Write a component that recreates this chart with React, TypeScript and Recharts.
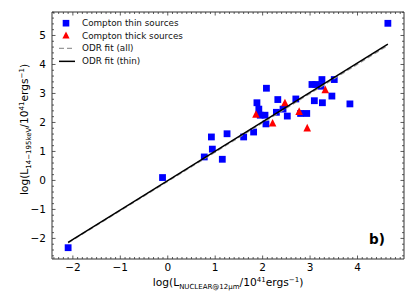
import { ScatterChart, Scatter, XAxis, YAxis, Legend } from "recharts";

const thinX = [4.64, -2.1, -0.11, 0.77, 0.92, 0.94, 1.15, 1.25, 1.6, 1.81, 1.88, 1.92, 1.95, 2.05, 2.08, 2.07, 2.29, 2.32, 2.43, 2.52, 2.7, 2.8, 2.93, 3.04, 3.12, 3.09, 3.25, 3.23, 3.26, 3.46, 3.51, 3.84];
const thinY = [5.42, -2.32, 0.1, 0.81, 1.5, 1.08, 0.73, 1.61, 1.5, 1.67, 2.68, 2.46, 2.25, 2.25, 3.18, 1.95, 2.35, 2.79, 2.46, 2.22, 2.81, 2.31, 2.31, 3.31, 3.31, 2.75, 3.48, 3.25, 2.68, 2.91, 3.48, 2.64];

const thickX = [1.86, 2.21, 2.47, 2.77, 2.94, 3.32];
const thickY = [2.29, 1.99, 2.69, 2.39, 1.82, 3.14];

const fitX = [-2.1, 4.64];
const fitAllY = [-2.15, 4.66];
const fitThinY = [-2.14, 4.7];

const xMajor = [-2, -1, 0, 1, 2, 3, 4];
const yMajor = [-2, -1, 0, 1, 2, 3, 4, 5];

const legendLabels = [
  "Compton thin sources",
  "Compton thick sources",
  "ODR fit (all)",
  "ODR fit (thin)",
];

const xDomain = [-2.44, 4.98];
const yDomain = [-2.71, 5.81];

const FONT = "DejaVu Sans";

const zip = (xs: number[], ys: number[]) => xs.map((x, i) => ({ x, y: ys[i] }));

const thin = zip(thinX, thinY);
const thick = zip(thickX, thickY);
const fitAll = zip(fitX, fitAllY);
const fitThin = zip(fitX, fitThinY);

// minor + major tick positions for the inward ticks
const allTicks = (lo: number, hi: number, step: number) => {
  const out: number[] = [];
  for (let k = Math.ceil(lo / step); k <= Math.floor(hi / step); k++) {
    out.push(Math.round(k * step * 1000) / 1000);
  }
  return out;
};
const xTicks = allTicks(xDomain[0], xDomain[1], 0.1);
const yTicks = allTicks(yDomain[0], yDomain[1], 0.2);

const isMajor = (v: number, major: number[]) => major.some((m) => Math.abs(v - m) < 1e-6);
const fmt = (v: number) => (v < 0 ? "\u2212" + Math.abs(v) : String(v));
const TICK_COLOR = "#333";

const BottomTick = ({ x, y, payload }: any) => {
  const major = isMajor(payload.value, xMajor);
  return (
    <g>
      <line x1={x} x2={x} y1={y} y2={y - (major ? 3.5 : 2)} stroke={TICK_COLOR} strokeWidth={0.8} />
      {major && (
        <text x={x} y={y + 11.5} textAnchor="middle" fontFamily={FONT} fontSize={10.5} fill="#000">
          {fmt(payload.value)}
        </text>
      )}
    </g>
  );
};

const TopTick = ({ x, y, payload }: any) => (
  <line
    x1={x}
    x2={x}
    y1={y}
    y2={y + (isMajor(payload.value, xMajor) ? 3.5 : 2)}
    stroke={TICK_COLOR}
    strokeWidth={0.8}
  />
);

const LeftTick = ({ x, y, payload }: any) => {
  const major = isMajor(payload.value, yMajor);
  return (
    <g>
      <line x1={x} x2={x + (major ? 3.5 : 2)} y1={y} y2={y} stroke={TICK_COLOR} strokeWidth={0.8} />
      {major && (
        <text x={x - 6} y={y + 3.8} textAnchor="end" fontFamily={FONT} fontSize={10.5} fill="#000">
          {fmt(payload.value)}
        </text>
      )}
    </g>
  );
};

const RightTick = ({ x, y, payload }: any) => (
  <line
    x1={x}
    x2={x - (isMajor(payload.value, yMajor) ? 3.5 : 2)}
    y1={y}
    y2={y}
    stroke={TICK_COLOR}
    strokeWidth={0.8}
  />
);

const XTitle = ({ viewBox }: any) => (
  <text
    x={viewBox.x + viewBox.width / 2}
    y={viewBox.y + 27}
    textAnchor="middle"
    fontFamily={FONT}
    fontSize={10.7}
    fill="#000"
  >
    log(L
    <tspan fontSize={7} dy={2.5}>NUCLEAR@12μm</tspan>
    <tspan dy={-2.5}>/10</tspan>
    <tspan fontSize={7} dy={-4.5}>41</tspan>
    <tspan dy={4.5}>ergs</tspan>
    <tspan fontSize={7} dy={-4.5}>{"\u22121"}</tspan>
    <tspan dy={4.5}>)</tspan>
  </text>
);

const YTitle = ({ viewBox }: any) => {
  const cx = viewBox.x + 28;
  const cy = viewBox.y + viewBox.height / 2 - 6;
  return (
    <text
      x={cx}
      y={cy}
      transform={`rotate(-90, ${cx}, ${cy})`}
      textAnchor="middle"
      fontFamily={FONT}
      fontSize={10.7}
      fill="#000"
    >
      log(L
      <tspan fontSize={7} dy={2.5}>{"14\u2212195keV"}</tspan>
      <tspan dy={-2.5}>/10</tspan>
      <tspan fontSize={7} dy={-4.5}>41</tspan>
      <tspan dy={4.5}>ergs</tspan>
      <tspan fontSize={7} dy={-4.5}>{"\u22121"}</tspan>
      <tspan dy={4.5}>)</tspan>
    </text>
  );
};

const Square = ({ cx, cy }: any) => (
  <rect x={cx - 3.4} y={cy - 3.4} width={6.8} height={6.8} fill="#0000ff" />
);

const Triangle = ({ cx, cy }: any) => (
  <polygon
    points={`${cx},${cy - 3.8} ${cx - 3.8},${cy + 3.8} ${cx + 3.8},${cy + 3.8}`}
    fill="#ff0000"
  />
);

const NoDot = () => <g />;

const legendIcons = [
  <rect x={6.7} y={2.9} width={6.6} height={6.6} fill="#0000ff" />,
  <polygon points="10,2.4 6.4,9.6 13.6,9.6" fill="#ff0000" />,
  <line x1={3} x2={19} y1={6.35} y2={6.35} stroke="#999" strokeWidth={1.4} strokeDasharray="5 3" />,
  <line x1={3} x2={19} y1={6.35} y2={6.35} stroke="#000" strokeWidth={1.5} />,
];

const LegendBox = () => (
  <div style={{ fontFamily: FONT, fontSize: 8.8, color: "#111" }}>
    {legendLabels.map((label, i) => (
      <div key={label} style={{ display: "flex", alignItems: "center", height: 12.7 }}>
        <svg width={22} height={12.7} style={{ marginRight: 4 }}>
          {legendIcons[i]}
        </svg>
        <span style={{ whiteSpace: "nowrap" }}>{label}</span>
      </div>
    ))}
  </div>
);

const App = () => {
  return (
    <div style={{ position: "absolute", left: 0, top: 0, width: 415, height: 308, background: "#fff" }}>
      <ScatterChart width={415} height={308} margin={{ top: 11, right: 10, bottom: 0, left: 0 }}>
        <XAxis
          xAxisId="b"
          type="number"
          dataKey="x"
          domain={xDomain}
          allowDataOverflow
          ticks={xTicks}
          interval={0}
          height={49}
          tickSize={0}
          tickMargin={0}
          tickLine={false}
          axisLine={{ stroke: TICK_COLOR, strokeWidth: 1 }}
          tick={BottomTick}
          label={{ content: (p: any) => <XTitle viewBox={p.viewBox} /> }}
        />
        <XAxis
          xAxisId="t"
          orientation="top"
          type="number"
          dataKey="x"
          domain={xDomain}
          allowDataOverflow
          ticks={xTicks}
          interval={0}
          height={1}
          tickSize={0}
          tickMargin={0}
          tickLine={false}
          axisLine={{ stroke: TICK_COLOR, strokeWidth: 1 }}
          tick={TopTick}
        />
        <YAxis
          yAxisId="l"
          type="number"
          dataKey="y"
          domain={yDomain}
          allowDataOverflow
          ticks={yTicks}
          interval={0}
          width={52}
          tickSize={0}
          tickMargin={0}
          tickLine={false}
          axisLine={{ stroke: TICK_COLOR, strokeWidth: 1 }}
          tick={LeftTick}
          label={{ content: (p: any) => <YTitle viewBox={p.viewBox} /> }}
        />
        <YAxis
          yAxisId="r"
          orientation="right"
          type="number"
          dataKey="y"
          domain={yDomain}
          allowDataOverflow
          ticks={yTicks}
          interval={0}
          width={1}
          tickSize={0}
          tickMargin={0}
          tickLine={false}
          axisLine={{ stroke: TICK_COLOR, strokeWidth: 1 }}
          tick={RightTick}
        />
        <Legend
          layout="vertical"
          align="center"
          verticalAlign="middle"
          wrapperStyle={{ left: 56, top: 16.6, width: 160 }}
          content={() => <LegendBox />}
        />
        <Scatter
          name="Compton thin sources"
          data={thin}
          xAxisId="b"
          yAxisId="l"
          shape={Square}
          isAnimationActive={false}
        />
        <Scatter
          name="Compton thick sources"
          data={thick}
          xAxisId="b"
          yAxisId="l"
          shape={Triangle}
          isAnimationActive={false}
        />
        <Scatter
          name="ODR fit (all)"
          data={fitAll}
          xAxisId="b"
          yAxisId="l"
          shape={NoDot}
          line={{ stroke: "#999", strokeWidth: 1.5, strokeDasharray: "5 3" }}
          isAnimationActive={false}
        />
        <Scatter
          name="ODR fit (thin)"
          data={fitThin}
          xAxisId="b"
          yAxisId="l"
          shape={NoDot}
          line={{ stroke: "#000", strokeWidth: 1.5 }}
          isAnimationActive={false}
        />
      </ScatterChart>
      <div
        style={{
          position: "absolute",
          left: 369,
          top: 231,
          fontFamily: FONT,
          fontWeight: "bold",
          fontSize: 13.5,
          color: "#000",
        }}
      >
        b)
      </div>
    </div>
  );
};

export default App;
